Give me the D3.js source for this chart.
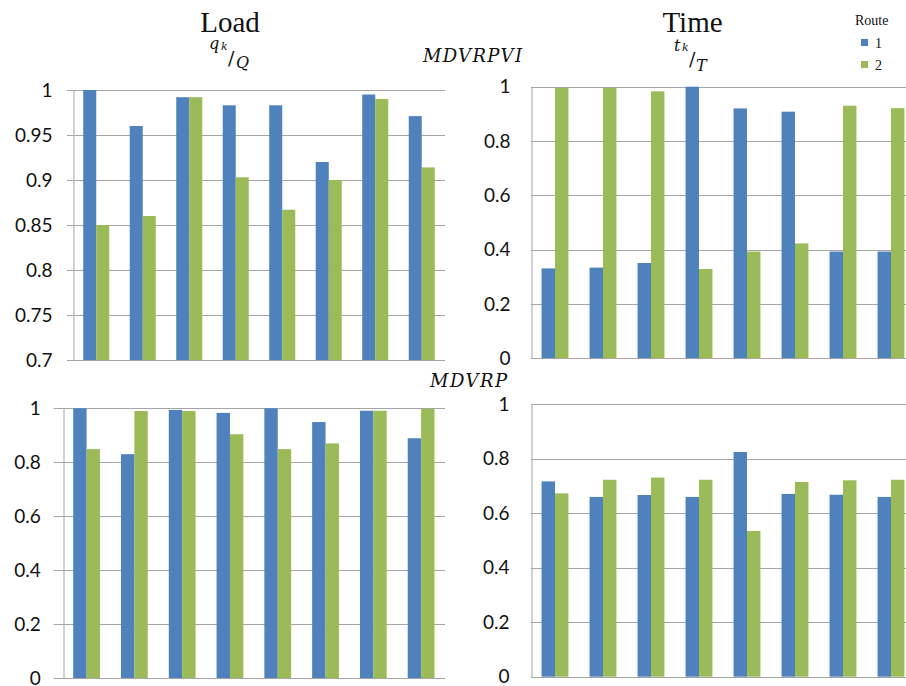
<!DOCTYPE html>
<html><head><meta charset="utf-8">
<script src="https://cdn.jsdelivr.net/npm/d3@7"></script>
<style>
html,body{margin:0;padding:0;background:#fff;}
svg{display:block;}
</style></head>
<body>
<svg id="chart" width="906" height="686"></svg>
<script>
// ---- data ----
const categories = ["1","2","3","4","5","6","7","8"];
const routes = ["1","2"];
const loadMDVRPVI_route1 = [1.000, 0.960, 0.992, 0.983, 0.983, 0.920, 0.995, 0.971];
const loadMDVRPVI_route2 = [0.850, 0.860, 0.992, 0.903, 0.867, 0.900, 0.990, 0.914];
const timeMDVRPVI_route1 = [0.331, 0.334, 0.351, 1.000, 0.920, 0.908, 0.393, 0.393];
const timeMDVRPVI_route2 = [0.996, 0.996, 0.983, 0.329, 0.393, 0.423, 0.930, 0.921];
const loadMDVRP_route1 = [1.000, 0.830, 0.994, 0.983, 1.000, 0.949, 0.991, 0.889];
const loadMDVRP_route2 = [0.849, 0.990, 0.990, 0.904, 0.849, 0.870, 0.991, 0.998];
const timeMDVRP_route1 = [0.717, 0.660, 0.667, 0.660, 0.825, 0.671, 0.668, 0.660];
const timeMDVRP_route2 = [0.673, 0.723, 0.731, 0.723, 0.535, 0.715, 0.721, 0.723];
const loadTopTicks = [0.7, 0.75, 0.8, 0.85, 0.9, 0.95, 1];
const loadTopTickLabels = ["0.7","0.75","0.8","0.85","0.9","0.95","1"];
const unitTicks = [0, 0.2, 0.4, 0.6, 0.8, 1];
const unitTickLabels = ["0","0.2","0.4","0.6","0.8","1"];
const routeColors = ["#4f81bd", "#9bbb59"];

const svg = d3.select("#chart");

const panels = [
  {left:73, right:445, top:90, bottom:360, domain:[0.7,1], ticks:loadTopTicks, labels:loadTopTickLabels, tickLen:6, labelEnd:52, s1:loadMDVRPVI_route1, s2:loadMDVRPVI_route2},
  {left:531, right:915, top:86.7, bottom:358.3, domain:[0,1], ticks:unitTicks, labels:unitTickLabels, tickLen:0, labelEnd:510, s1:timeMDVRPVI_route1, s2:timeMDVRPVI_route2},
  {left:62.7, right:445, top:408.3, bottom:678.3, domain:[0,1], ticks:unitTicks, labels:unitTickLabels, tickLen:9, labelEnd:40, s1:loadMDVRP_route1, s2:loadMDVRP_route2},
  {left:531, right:915, top:404.3, bottom:676.7, domain:[0,1], ticks:unitTicks, labels:unitTickLabels, tickLen:0, labelEnd:509, s1:timeMDVRP_route1, s2:timeMDVRP_route2}
];

panels.forEach(p => {
  const g = svg.append("g");
  const y = d3.scaleLinear().domain(p.domain).range([p.bottom, p.top]);
  const x = d3.scaleBand().domain(categories).range([p.left, p.right]).paddingInner(0.44).paddingOuter(0.22);
  const xs = d3.scaleBand().domain(routes).range([0, x.bandwidth()]);
  const color = d3.scaleOrdinal().domain(routes).range(routeColors);

  g.append("g").selectAll("line").data(p.ticks).join("line")
    .attr("x1", p.left - p.tickLen).attr("x2", p.right)
    .attr("y1", d => Math.round(y(d)) + 0.5).attr("y2", d => Math.round(y(d)) + 0.5)
    .attr("stroke", "#a5a5a5").attr("stroke-width", 1);

  const rows = categories.map((c, i) => ({cat: c, vals: [p.s1[i], p.s2[i]]}));
  g.append("g").selectAll("g").data(rows).join("g")
    .attr("transform", d => `translate(${x(d.cat)},0)`)
    .selectAll("rect").data(d => d.vals.map((v, j) => ({route: routes[j], v})))
    .join("rect")
    .attr("x", d => xs(d.route))
    .attr("width", xs.bandwidth())
    .attr("y", d => y(d.v))
    .attr("height", d => y(p.domain[0]) - y(d.v))
    .attr("fill", d => color(d.route));

  const ax = d3.axisLeft(y).tickValues(p.ticks)
    .tickFormat((d, i) => p.labels[i]).tickSize(0).tickSizeOuter(0)
    .tickPadding(p.left - p.labelEnd);
  const axg = g.append("g").attr("transform", `translate(${Math.round(p.left)+0.5},0)`).call(ax);
  axg.select(".domain").attr("stroke", "#a5a5a5");
  axg.selectAll("text").attr("font-family", "Lato, 'Open Sans', sans-serif")
    .attr("font-size", 19).attr("fill", "#111");
  g.append("line").attr("x1", p.left - p.tickLen).attr("x2", p.right)
    .attr("y1", Math.round(p.bottom)+0.5).attr("y2", Math.round(p.bottom)+0.5)
    .attr("stroke", "#a5a5a5");
});

// ---- titles ----
const serif = "'Liberation Serif', 'DejaVu Serif', serif";
const mathFont = "'DejaVu Serif', 'Liberation Serif', serif";
svg.append("text").attr("x", 230).attr("y", 32).attr("text-anchor", "middle")
  .attr("font-family", serif).attr("font-size", 29).attr("fill", "#111").text("Load");
svg.append("text").attr("x", 692.5).attr("y", 32).attr("text-anchor", "middle")
  .attr("font-family", serif).attr("font-size", 29).attr("fill", "#111").text("Time");

function frac(parts) {
  parts.forEach(pt => {
    svg.append("text").attr("x", pt.x).attr("y", pt.y)
      .attr("font-family", mathFont).attr("font-style", pt.italic ? "italic" : "normal")
      .attr("font-size", pt.size).attr("fill", "#111").text(pt.t);
  });
}
frac([
  {t:"q", x:209, y:49, size:16, italic:true},
  {t:"k", x:221, y:50, size:11, italic:true},
  {t:"/", x:228, y:65, size:19, italic:false},
  {t:"Q", x:236, y:68, size:16, italic:true}
]);
frac([
  {t:"t", x:674, y:51, size:16, italic:true},
  {t:"k", x:682, y:51, size:11, italic:true},
  {t:"/", x:689, y:66, size:19, italic:false},
  {t:"T", x:696, y:71, size:16, italic:true}
]);

svg.append("text").attr("x", 423).attr("y", 62)
  .attr("font-family", mathFont).attr("font-style", "italic").attr("font-size", 18)
  .attr("fill", "#111").attr("textLength", 99).attr("lengthAdjust", "spacing").text("MDVRPVI");
svg.append("text").attr("x", 430).attr("y", 387)
  .attr("font-family", mathFont).attr("font-style", "italic").attr("font-size", 18)
  .attr("fill", "#111").attr("textLength", 77).attr("lengthAdjust", "spacing").text("MDVRP");

// ---- legend ----
svg.append("text").attr("x", 855).attr("y", 25)
  .attr("font-family", serif).attr("font-size", 14).attr("fill", "#111").text("Route");
const lg = svg.append("g").selectAll("g").data(routes).join("g")
  .attr("transform", (d, i) => `translate(861,${39 + i * 22})`);
lg.append("rect").attr("width", 7).attr("height", 7).attr("fill", (d, i) => routeColors[i]);
lg.append("text").attr("x", 14).attr("y", 9)
  .attr("font-family", serif).attr("font-size", 14).attr("fill", "#111").text(d => d);
</script>
</body></html>
